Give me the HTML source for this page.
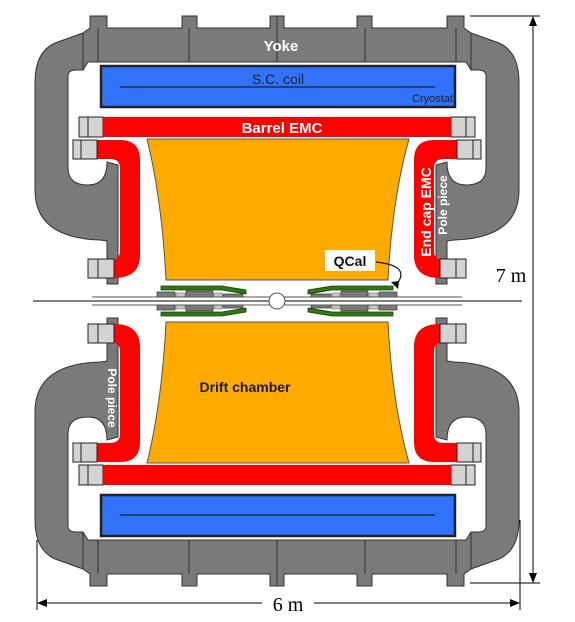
<!DOCTYPE html>
<html><head><meta charset="utf-8"><style>
html,body{margin:0;padding:0;background:#fff}
svg{display:block}
text{font-family:"Liberation Sans",Arial,sans-serif}
</style></head><body>
<svg width="575" height="622" viewBox="0 0 575 622">
<defs>
<g id="quarter">
  <path fill="#7b7a7b" stroke="#333" stroke-width="1"
    d="M277,16 L270,16 L270,28 L197,28 L197,16 L182,16 L182,28 L107,28 L107,16 L90,16 L90,28 L83,33 L55,43 Q35,52 35,82 L35,190 Q35,238 100,240 L107,241 L107,284 L118,284 L118,165 L107,162 Q107,185 88,185 Q68,185 68,168 L68,76 Q68,70 76,70 L83,70 L88,62 L277,62 Z"/>
  <line x1="83" y1="33" x2="83" y2="70" stroke="#333" stroke-width="1"/>
  <line x1="98" y1="28" x2="98" y2="62" stroke="#333" stroke-width="1"/>
  <line x1="189" y1="28" x2="189" y2="62" stroke="#333" stroke-width="1"/>
  <path fill="#ff0000"
    d="M97,140 L120,140 Q140,140 140,160 L140,255 Q140,278 114,278 L114,259 Q120,259 120,250 L120,168 Q120,159 110,159 L97,159 Z"/>
  <rect x="73" y="140" width="24" height="19" fill="#d3d3d3" stroke="#222" stroke-width="1"/>
  <line x1="81" y1="140" x2="81" y2="159" stroke="#222"/>
  <rect x="88" y="259" width="26" height="19" fill="#d3d3d3" stroke="#222" stroke-width="1"/>
  <line x1="98" y1="259" x2="98" y2="278" stroke="#222"/>
  <rect x="79" y="117" width="24" height="20" fill="#d3d3d3" stroke="#222" stroke-width="1"/>
  <line x1="88" y1="117" x2="88" y2="137" stroke="#222"/>
  <path fill="#2d7a10" stroke="#1a3a10" stroke-width="0.8" d="M161,286 L222,286 L246,290 L246,294 L222,290 L161,290 Z"/>
  <rect x="157" y="292" width="18" height="5" fill="#7b7a7b" stroke="#333" stroke-width="0.7"/>
  <rect x="176" y="293" width="9" height="4" fill="#c8c8c8" stroke="#555" stroke-width="0.5"/>
  <rect x="186" y="291" width="27" height="6" fill="#7b7a7b" stroke="#333" stroke-width="0.7"/>
  <rect x="214" y="293" width="8" height="4" fill="#c8c8c8" stroke="#555" stroke-width="0.5"/>
  <rect x="223" y="294" width="20" height="3" fill="#7b7a7b" stroke="#333" stroke-width="0.7"/>
</g>
<g id="half">
  <use href="#quarter"/>
  <use href="#quarter" transform="matrix(-1,0,0,1,554,0)"/>
  <rect x="101" y="66" width="354" height="41" fill="#3172fb" stroke="#222" stroke-width="2.5"/>
  <line x1="120" y1="87" x2="435" y2="87" stroke="#222" stroke-width="1.2"/>
  <rect x="103" y="117" width="348" height="20" fill="#ff0000"/>
  <path fill="#ffaa00" stroke="#555" stroke-width="1" d="M147,139 L409,139 Q392,200 388,280 L166,280 Q162,200 147,139 Z"/>
</g>
</defs>
<use href="#half"/>
<use href="#half" transform="matrix(1,0,0,-1,0,602)"/>
<line x1="33" y1="301" x2="522" y2="301" stroke="#000" stroke-width="1"/>
<line x1="92" y1="297" x2="462" y2="297" stroke="#555" stroke-width="1"/>
<line x1="92" y1="305" x2="462" y2="305" stroke="#555" stroke-width="1"/>
<circle cx="277" cy="301" r="8" fill="#fff" stroke="#555" stroke-width="1"/>
<text x="281" y="51" font-size="15" font-weight="bold" fill="#fff" text-anchor="middle">Yoke</text>
<text x="278" y="84" font-size="14" fill="#222" text-anchor="middle">S.C. coil</text>
<text x="453" y="102" font-size="11" fill="#222" text-anchor="end">Cryostat</text>
<text x="282" y="133" font-size="15" font-weight="bold" fill="#fff" text-anchor="middle">Barrel EMC</text>
<text transform="translate(431,212) rotate(-90)" font-size="14" font-weight="bold" fill="#fff" text-anchor="middle">End cap EMC</text>
<text transform="translate(447,205) rotate(-90)" font-size="12" font-weight="bold" fill="#fff" text-anchor="middle">Pole piece</text>
<text transform="translate(108,398) rotate(90)" font-size="12" font-weight="bold" fill="#fff" text-anchor="middle">Pole piece</text>
<text x="245" y="392" font-size="14" font-weight="bold" fill="#1a1a3a" text-anchor="middle">Drift chamber</text>
<rect x="325" y="250" width="50" height="21" fill="#fff"/>
<text x="350" y="266" font-size="14" font-weight="bold" fill="#111" text-anchor="middle">QCal</text>
<path d="M376,262 Q412,266 396,285" fill="none" stroke="#111" stroke-width="1.2"/>
<path d="M398,289 L391,282 L399,281 Z" fill="#111"/>
<g stroke="#000" stroke-width="1">
  <line x1="470" y1="16" x2="540" y2="16"/>
  <line x1="470" y1="583" x2="540" y2="583"/>
  <line x1="533" y1="20" x2="533" y2="579"/>
</g>
<path d="M533,16 L529,26 L537,26 Z M533,583 L529,573 L537,573 Z" fill="#000"/>
<rect x="488" y="262" width="42" height="26" fill="#fff"/>
<text x="511" y="282" font-size="20" text-anchor="middle" style="font-family:'Liberation Serif',serif">7 m</text>
<g stroke="#000" stroke-width="1">
  <line x1="37" y1="540" x2="37" y2="610"/>
  <line x1="520" y1="520" x2="520" y2="610"/>
  <line x1="41" y1="603" x2="516" y2="603"/>
</g>
<path d="M37,603 L47,599 L47,607 Z M520,603 L510,599 L510,607 Z" fill="#000"/>
<rect x="262" y="592" width="52" height="24" fill="#fff"/>
<text x="288" y="611" font-size="20" text-anchor="middle" style="font-family:'Liberation Serif',serif">6 m</text>
</svg>
</body></html>
